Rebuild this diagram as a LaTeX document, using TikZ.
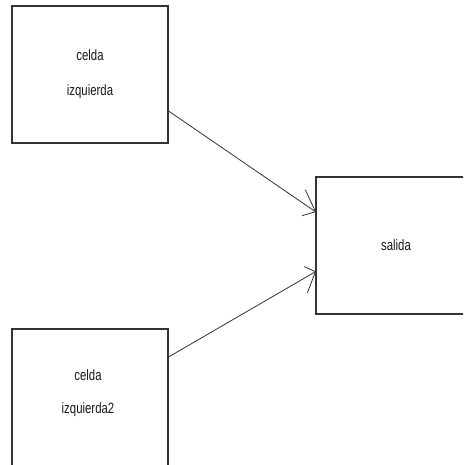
\documentclass[tikz,border=0pt]{standalone}
\usepackage{fontspec}
\usepackage{graphicx}
\setmainfont{Liberation Sans}
\newcommand{\celltext}[1]{\scalebox{0.76}[1]{#1}}
\tikzset{
  cellbox/.style={draw=black!80, line width=1.1pt, fill=white, rectangle, inner sep=0pt,
    font=\fontsize{15}{35}\selectfont, text=black!90, align=center},
  celllabel/.style={font=\fontsize{15}{33}\selectfont, text=black!90, align=center, inner sep=0pt},
  link/.style={draw=black!80, line width=0.8pt},
  barb/.style={draw=black!80, line width=0.8pt, line cap=round}
}
\begin{document}
\begin{tikzpicture}[x=1pt, y=-1pt]
  \useasboundingbox (0,0) rectangle (463,465);
  \fill[white] (0,0) rectangle (463,465);
  \clip (0,0) rectangle (463,465);

  % left cells and output cell
  \node[cellbox, minimum width=156pt, minimum height=137pt] (izq) at (90,74.5)
    {\celltext{celda}\\\celltext{izquierda}};
  \node[cellbox, minimum width=160pt, minimum height=137pt] (sal) at (396,245.5)
    {\celltext{salida}};
  \node[cellbox, minimum width=156pt, minimum height=146pt] (izq2) at (90,402) {};
  \node[celllabel] (izq2text) at (88,393.5) {\celltext{celda}\\\celltext{izquierda2}};

  % arrow end points on the output cell
  \coordinate (t1) at ([yshift=33.8pt]sal.west);
  \coordinate (t2) at ([yshift=-26.2pt]sal.west);

  % connectors
  \draw[link] ([yshift=-36.5pt]izq.east) -- (t1);
  \draw[link] ([yshift=45pt]izq2.east) -- (t2);

  % open arrowheads
  \draw[barb] (t1) -- ++(-10,-21.7);
  \draw[barb] (t1) -- ++(-13.3,4);
  \draw[barb] (t2) -- ++(-11,-5);
  \draw[barb] (t2) -- ++(-8,21);
\end{tikzpicture}
\end{document}
